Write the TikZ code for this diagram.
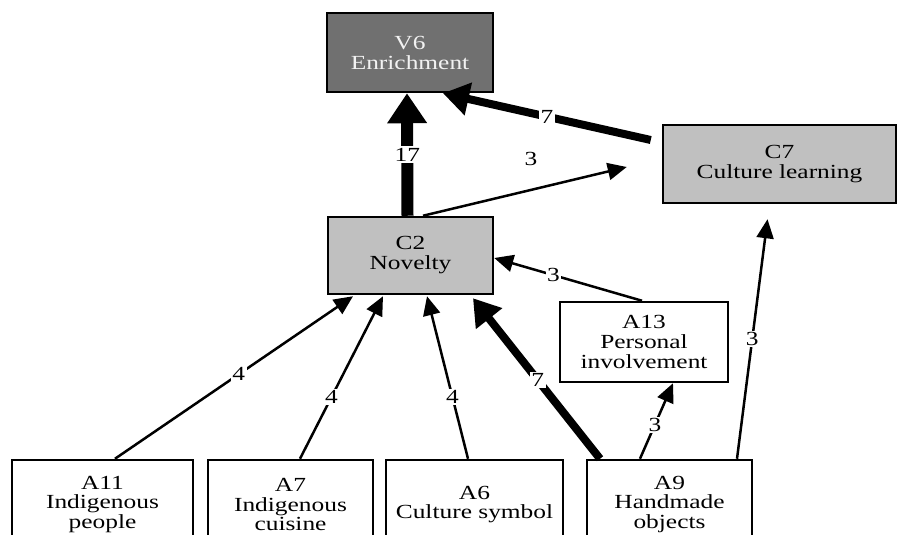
\documentclass[tikz,border=0pt]{standalone}
\usepackage{fontspec}
\setmainfont{Liberation Serif}[FakeStretch=1.27]
\usetikzlibrary{arrows.meta}
\definecolor{darkfill}{HTML}{707070}
\definecolor{lightfill}{HTML}{C0C0C0}
\definecolor{lighttext}{HTML}{F2F2F2}
\begin{document}
\begin{tikzpicture}[x=1pt,y=-1pt,
  box/.style={draw=black, line width=2.5pt, rectangle, align=center, inner sep=0pt,
    font=\fontsize{20}{20}\selectfont},
  lowbox/.style={box, fill=white, minimum height=89pt, font=\fontsize{20}{19.5}\selectfont},
  lbl/.style={fill=white, inner sep=1.5pt, font=\fontsize{20}{20}\selectfont},
  thin/.style={line width=2.5pt, -{Triangle[length=19pt,width=17pt]}},
  mid/.style={line width=8pt, -{Triangle[length=26pt,width=32pt]}},
  heavy/.style={line width=12pt, -{Triangle[length=30pt,width=38pt]}}]
\useasboundingbox (0,0) rectangle (898,535);
% nodes
\node[box, fill=darkfill, text=lighttext, minimum width=166pt, minimum height=79pt] (v6) at (410,52.5) {V6\\Enrichment};
\node[box, fill=lightfill, minimum width=165pt, minimum height=77pt] (c2) at (410.5,255.5) {C2\\Novelty};
\node[box, fill=lightfill, minimum width=233pt, minimum height=78pt] (c7) at (779.5,164) {C7\\Culture learning};
\node[box, fill=white, minimum width=168pt, minimum height=80pt] (a13) at (644,342) {A13\\Personal\\involvement};
\node[lowbox, minimum width=181pt] (a11) at (102.5,504.5) {A11\\Indigenous\\people};
\node[lowbox, minimum width=165pt] (a7) at (290.5,504.5) {A7\\Indigenous\\cuisine};
\node[lowbox, minimum width=177pt] (a6) at (474.5,504.5) {A6\\Culture symbol};
\node[lowbox, minimum width=165pt] (a9) at (669.5,504.5) {A9\\Handmade\\objects};
% connectors
\draw[heavy] ([xshift=-3pt]c2.north) -- ([xshift=-3pt]v6.south) node[lbl, pos=0.5] {17};
\draw[mid] ([xshift=-11pt,yshift=24pt]c7.west) -- ([xshift=33pt]v6.south) node[lbl, pos=0.5] {7};
\draw[thin] ([xshift=12.5pt]c2.north) -- ([xshift=-35pt,yshift=-3pt]c7.west) node[lbl, pos=0.53, yshift=31pt] {3};
\draw[thin] ([xshift=-2pt]a13.north) -- ([yshift=-2.5pt]c2.east) node[lbl, pos=0.6] {3};
\draw[thin] ([xshift=-29.5pt]a9.north) -- ([xshift=29pt]a13.south) node[lbl, pos=0.45] {3};
\draw[thin] ([xshift=67.5pt]a9.north) -- ([xshift=-12pt,yshift=-15pt]c7.south) node[lbl, pos=0.5] {3};
\draw[mid] ([xshift=-69.5pt]a9.north) -- ([xshift=62.5pt,yshift=-3pt]c2.south) node[lbl, pos=0.49] {7};
\draw[thin] ([xshift=12.5pt]a11.north) -- ([xshift=-57.5pt,yshift=-1pt]c2.south) node[lbl, pos=0.52] {4};
\draw[thin] ([xshift=9.5pt]a7.north) -- ([xshift=-27.5pt,yshift=-1pt]c2.south) node[lbl, pos=0.38] {4};
\draw[thin] ([xshift=-6.5pt]a6.north) -- ([xshift=16.5pt,yshift=-1pt]c2.south) node[lbl, pos=0.38] {4};
\end{tikzpicture}
\end{document}
